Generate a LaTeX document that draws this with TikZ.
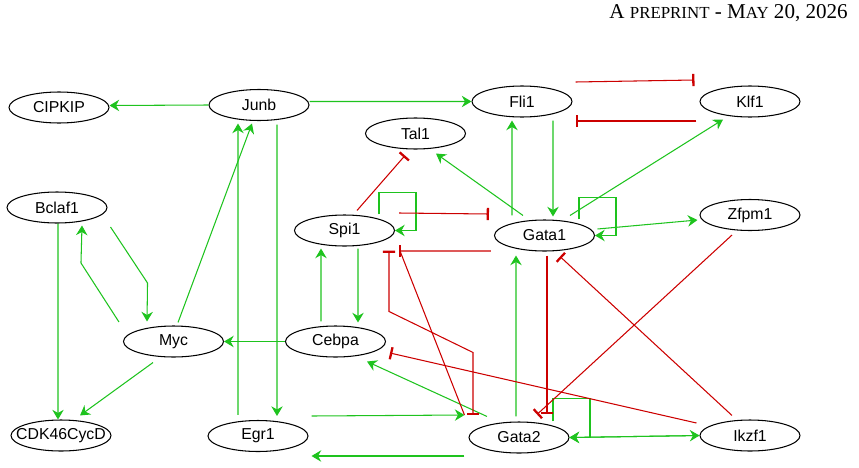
\documentclass[tikz,border=0pt]{standalone}
\usepackage{fontspec}
\newfontfamily\genefont{Liberation Sans}
\newfontfamily\headfont{Liberation Serif}
\usetikzlibrary{arrows.meta,shapes.geometric}
\definecolor{actgreen}{RGB}{30,195,30}
\definecolor{inhred}{RGB}{204,0,0}

\begin{document}
\begin{tikzpicture}[every node/.style={font=\genefont\fontsize{9}{10}\selectfont},
    gene/.style={draw, ellipse, line width=0.6pt, inner sep=0pt, minimum width=2cm, minimum height=0.62cm},
    act/.style={color=actgreen, line width=0.6pt, -{Stealth[length=5.5pt,width=6.5pt,inset=1.8pt]}},
    inh/.style={color=inhred, line width=0.6pt, -{Bar[width=7pt,line width=1.3pt]}},
    inhboth/.style={inh, {Bar[width=7pt,line width=1.3pt]}-{Bar[width=7pt,line width=1.3pt]}}]
        \useasboundingbox (0,0) rectangle (17.18,9.34);
        \node[anchor=east, font=\headfont\fontsize{12}{13}\selectfont] (header) at (17.08,9.08) {A {\fontsize{9.6}{10}\selectfont PREPRINT} - M{\fontsize{9.6}{10}\selectfont AY} 20, 2026};
        \node[gene] (cipkip) at (1.18,7.19) {CIPKIP};
        \node[gene] (junb) at (5.18,7.24) {Junb};
        \node[gene] (fli) at (10.44,7.31) {Fli1};
        \node[gene] (klf) at (15.00,7.31) {Klf1};
        \node[gene] (tal) at (8.31,6.67) {Tal1};
        \node[gene] (bclaf) at (1.14,5.19) {Bclaf1};
        \node[gene] (spi) at (6.89,4.73) {Spi1};
        \node[gene] (gataone) at (10.89,4.63) {Gata1};
        \node[gene] (zfpm) at (15.00,5.04) {Zfpm1};
        \node[gene] (myc) at (3.47,2.51) {Myc};
        \node[gene] (cebpa) at (6.71,2.51) {Cebpa};
        \node[gene, inner xsep=-2.5mm] (cdk) at (1.22,0.63) {CDK46CycD};
        \node[gene] (egr) at (5.16,0.62) {Egr1};
        \node[gene] (gatatwo) at (10.38,0.59) {Gata2};
        \node[gene] (ikzf) at (15.00,0.63) {Ikzf1};
        \draw[act] (junb.west) -- ([yshift=0.4mm]cipkip.east);
        \draw[act] ([yshift=0.7mm]junb.east) -- (fli.west);
        \draw[act] ([shift={(-0.40,0.1)}]egr.north) -- ([shift={(-0.42,-0.05)}]junb.south);
        \draw[act] ([shift={(0.09,0.06)}]myc.north) -- ([shift={(-0.14,-0.05)}]junb.south);
        \draw[act] ([shift={(0.36,-0.07)}]junb.south) -- ([shift={(0.38,0.08)}]egr.north);
        \draw[act] ([xshift=0.2mm]bclaf.south) -- ([xshift=-0.6mm]cdk.north);
        \draw[act] ([shift={(-0.08,0.39)}]myc.west) -- ++(-0.76,1.18) -- ([shift={(0.5,-0.04)}]bclaf.south);
        \draw[act] ([shift={(0.06,-0.39)}]bclaf.east) -- ++(0.74,-1.12) -- ([shift={(-0.53,0.08)}]myc.north);
        \draw[act] ([shift={(-0.41,-0.1)}]myc.south) -- ([shift={(0.38,0.08)}]cdk.north);
        \draw[act] (cebpa.west) -- (myc.east);
        \draw[act] ([shift={(-0.29,0.08)}]cebpa.north) -- ([shift={(-0.47,-0.04)}]spi.south);
        \draw[act] ([shift={(0.27,-0.04)}]spi.south) -- ([shift={(0.45,0.06)}]cebpa.north);
        \draw[act] ([xshift=6.9mm]spi.north) -- ++(0,0.44) -- ++(0.74,0) |- (spi.east);
        \draw[act] ([shift={(-0.43,0.08)}]gataone.north) -- ([shift={(0.41,-0.08)}]tal.south);
        \draw[act] ([shift={(-0.65,0.08)}]gataone.north) -- ([shift={(-0.20,-0.06)}]fli.south);
        \draw[act] ([shift={(0.62,-0.06)}]fli.south) -- ([shift={(0.17,0.06)}]gataone.north);
        \draw[act] ([shift={(0.51,0.08)}]gataone.north) -- ([shift={(-0.54,-0.04)}]klf.south);
        \draw[act] ([xshift=6.9mm]gataone.north) -- ++(0,0.44) -- ++(0.74,0) |- (gataone.east);
        \draw[act] ([shift={(0.05,0.13)}]gataone.east) -- ([shift={(-0.04,-0.1)}]zfpm.west);
        \draw[act] ([shift={(-0.06,0.1)}]gatatwo.north) -- ([shift={(-0.57,-0.08)}]gataone.south);
        \draw[act] ([shift={(-0.64,0.1)}]gatatwo.north) -- ([shift={(0.63,-0.08)}]cebpa.south);
        \draw[act] ([shift={(0.06,0.4)}]egr.east) -- ([shift={(-0.08,0.45)}]gatatwo.west);
        \draw[act] ([shift={(-0.08,-0.37)}]gatatwo.west) -- ([shift={(0.06,-0.4)}]egr.east);
        \draw[act] ([xshift=6.8mm]gatatwo.north) -- ++(0,0.46) -- ++(0.74,0) |- (gatatwo.east);
        \draw[act] (ikzf.west) -- (gatatwo.east);
        \draw[act] (gatatwo.east) -- (ikzf.west);
        \draw[inh] ([shift={(0.06,0.39)}]fli.east) -- ([shift={(-0.10,0.43)}]klf.west);
        \draw[inh] ([shift={(-0.06,-0.39)}]klf.west) -- ([shift={(0.06,-0.39)}]fli.east);
        \draw[inh] ([shift={(0.25,0.08)}]spi.north) -- ([shift={(-0.21,-0.12)}]tal.south);
        \draw[inh] ([shift={(0.08,0.35)}]spi.east) -- ([shift={(-0.10,0.43)}]gataone.west);
        \draw[inh] ([shift={(-0.06,-0.31)}]gataone.west) -- ([shift={(0.08,-0.41)}]spi.east);
        \draw[inhboth] ([shift={(-0.92,0.12)}]gatatwo.north) -- ++(0,1.26) -- ++(-1.68,0.82) -- ([shift={(0.89,-0.08)}]spi.south);
        \draw[inh, -] ([shift={(0.1,-0.41)}]spi.east) -- ([shift={(-0.08,0.45)}]gatatwo.west);
        \draw[inh] ([shift={(0.05,-0.08)}]gataone.south) -- ([shift={(0.56,0.14)}]gatatwo.north);
        \draw[inh] ([shift={(-0.36,-0.08)}]zfpm.south) -- ([shift={(0.36,0.14)}]gatatwo.north);
        \draw[inh] ([shift={(-0.36,0.08)}]ikzf.north) -- ([shift={(0.31,-0.1)}]gataone.south);
        \draw[inh] ([shift={(-0.06,0.25)}]ikzf.west) -- ([shift={(0.08,-0.23)}]cebpa.east);
    \end{tikzpicture}
\end{document}
